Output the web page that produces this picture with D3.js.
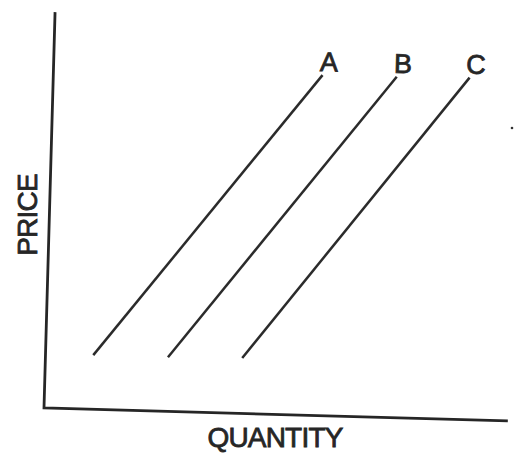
<!DOCTYPE html>
<html>
<head>
<meta charset="utf-8">
<script src="https://cdn.jsdelivr.net/npm/d3@7"></script>
<style>
  body { margin: 0; background: #fff; }
  text { font-family: "Liberation Sans", Arial, sans-serif; fill: #262626; stroke: #262626; stroke-width: 0.8; }
</style>
</head>
<body>
<svg id="chart"></svg>
<script>
// supply curves (quantity, price on 0..100)
const series = ['A', 'B', 'C']
const startQty = [10.3, 26.4, 42.4]
const startPrice = [13.7, 13.7, 14.0]
const endQty = [58.0, 74.0, 89.7]
const endPrice = [86.0, 86.1, 86.4]
const axisLabels = {x: 'QUANTITY', y: 'PRICE'}

let width = 515,
	height = 466
let origin = {x: 44, y: 408},
	plotW = 464,
	plotH = 396

let svg = d3.select('svg#chart')
	.attr('width', width)
	.attr('height', height)

let x = d3.scaleLinear().domain([0, 100]).range([0, plotW])
let y = d3.scaleLinear().domain([0, 100]).range([0, -plotH])

// the scan is tilted a little, so the whole plot is turned with it
let g = svg.append('g')
	.attr('transform', `translate(${origin.x},${origin.y}) rotate(1.6)`)

// axes
g.append('path')
	.attr('d', d3.line()([[x(0), y(100)], [x(0), y(0)], [x(100), y(0)]]))
	.attr('fill', 'none')
	.attr('stroke', '#262626')
	.attr('stroke-width', 2.8)

let curves = series.map((name, i) => ({
	name: name,
	pts: [[startQty[i], startPrice[i]], [endQty[i], endPrice[i]]]
}))

let line = d3.line().x(d => x(d[0])).y(d => y(d[1]))

g.selectAll('path.curve')
	.data(curves)
	.enter().append('path')
	.classed('curve', true)
	.attr('d', d => line(d.pts))
	.attr('fill', 'none')
	.attr('stroke', '#2b2b2b')
	.attr('stroke-width', 2.5)

g.selectAll('text.curve-label')
	.data(curves)
	.enter().append('text')
	.classed('curve-label', true)
	.attr('x', d => x(d.pts[1][0]) + 6)
	.attr('y', d => y(d.pts[1][1]) - 4)
	.attr('text-anchor', 'middle')
	.attr('font-size', 27)
	.text(d => d.name)

svg.append('text')
	.attr('x', 275)
	.attr('y', 447)
	.attr('text-anchor', 'middle')
	.attr('font-size', 28)
	.attr('letter-spacing', -0.8)
	.text(axisLabels.x)

svg.append('text')
	.attr('transform', 'translate(37,215) rotate(-90)')
	.attr('text-anchor', 'middle')
	.attr('font-size', 28)
	.attr('letter-spacing', -0.8)
	.text(axisLabels.y)

// stray speck from the scan
svg.append('circle')
	.attr('cx', 512)
	.attr('cy', 128)
	.attr('r', 1.3)
	.attr('fill', '#333')
</script>
</body>
</html>
